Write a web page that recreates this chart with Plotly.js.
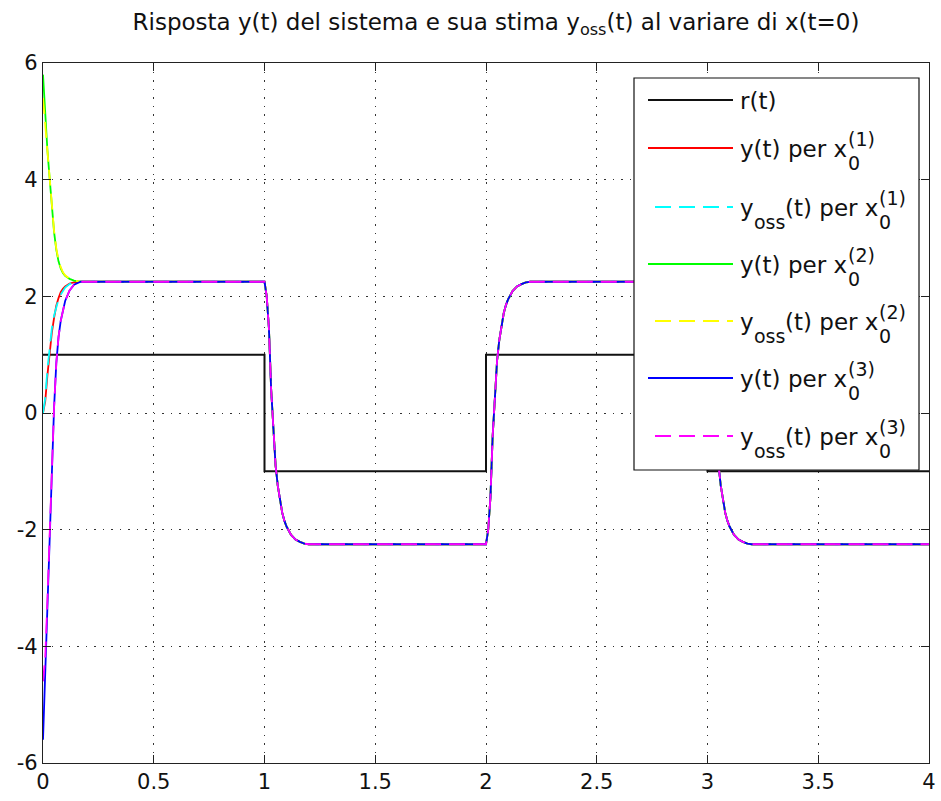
<!DOCTYPE html>
<html>
<head>
<meta charset="utf-8">
<script src="https://cdn.plot.ly/plotly-3.0.1.min.js"></script>
<style>html,body{margin:0;padding:0;background:#fff;}#chart{width:941px;height:801px;}</style>
</head>
<body>
<div id="chart"></div>
<script>
// ---------- data ----------
const tR = [0, 1, 1, 2, 2, 3, 3, 4];
const yR = [1, 1, -1, -1, 1, 1, -1, -1];

// initial transients (t = 0 .. 0.17)
const tInit  = [0, 0.01, 0.02, 0.03, 0.04, 0.05, 0.06, 0.07, 0.08, 0.09, 0.1, 0.12, 0.14, 0.17];
const y1Init  = [0, 0.2, 0.65, 1.05, 1.38, 1.63, 1.84, 1.97, 2.07, 2.13, 2.17, 2.22, 2.24, 2.25];
const yo1Init = [0, 0.25, 0.75, 1.15, 1.45, 1.67, 1.83, 1.95, 2.03, 2.1, 2.15, 2.21, 2.24, 2.25];
const y2Init  = [5.8, 5.05, 4.5, 4.02, 3.55, 3.1, 2.8, 2.6, 2.48, 2.4, 2.35, 2.3, 2.27, 2.25];
const yo2Init = [5.4, 4.95, 4.45, 4.0, 3.55, 3.12, 2.82, 2.62, 2.5, 2.41, 2.36, 2.3, 2.27, 2.25];
const y3Init  = [-5.6, -4.4, -3.2, -2.1, -0.9, 0.1, 0.85, 1.3, 1.58, 1.78, 1.92, 2.1, 2.2, 2.25];
const yo3Init = [-4.6, -4.2, -3.2, -2.1, -0.9, 0.1, 0.85, 1.3, 1.58, 1.78, 1.92, 2.1, 2.2, 2.25];

// common response after the initial transient (all six curves coincide)
const tCommon = [0.2, 1.0, 1.01, 1.02, 1.03, 1.04, 1.05, 1.06, 1.07, 1.08, 1.09, 1.1, 1.12, 1.14, 1.16, 1.18, 1.2,
                 2.0, 2.01, 2.02, 2.03, 2.04, 2.05, 2.06, 2.07, 2.08, 2.09, 2.1, 2.12, 2.14, 2.16, 2.18, 2.2,
                 3.0, 3.01, 3.02, 3.03, 3.04, 3.05, 3.06, 3.07, 3.08, 3.09, 3.1, 3.12, 3.14, 3.16, 3.18, 3.2, 4.0];
const yCommon = [2.25, 2.25, 2.0, 1.45, 0.4, -0.35, -0.9, -1.25, -1.52, -1.71, -1.85, -1.95, -2.09, -2.17, -2.21, -2.24, -2.25,
                 -2.25, -2.0, -1.45, -0.4, 0.35, 0.9, 1.25, 1.52, 1.71, 1.85, 1.95, 2.09, 2.17, 2.21, 2.24, 2.25,
                 2.25, 2.0, 1.45, 0.4, -0.35, -0.9, -1.25, -1.52, -1.71, -1.85, -1.95, -2.09, -2.17, -2.21, -2.24, -2.25, -2.25];

const yTickVals = [-6, -4, -2, 0, 2, 4, 6];
const yTickText = ['-6', '-4', '-2', '0', '2', '4', '6'];
const xTickVals = [0, 0.5, 1, 1.5, 2, 2.5, 3, 3.5, 4];
const xTickText = ['0', '0.5', '1', '1.5', '2', '2.5', '3', '3.5', '4'];

const seriesNames = ['r(t)', 'y(t) per x0(1)', 'yoss(t) per x0(1)', 'y(t) per x0(2)', 'yoss(t) per x0(2)', 'y(t) per x0(3)', 'yoss(t) per x0(3)'];

// ---------- styles ----------
const FONT = '"DejaVu Sans", Verdana, sans-serif';
const DASH = '16px,8px';
const styles = [
  {color: '#111111', dash: 'solid'},
  {color: '#ff0000', dash: 'solid'},
  {color: '#00ffff', dash: DASH},
  {color: '#00ff00', dash: 'solid'},
  {color: '#ffff00', dash: DASH},
  {color: '#0000ff', dash: 'solid'},
  {color: '#ff00ff', dash: DASH}
];

const inits = [y1Init, yo1Init, y2Init, yo2Init, y3Init, yo3Init];
const traces = [{x: tR, y: yR, type: 'scatter', mode: 'lines', name: seriesNames[0], showlegend: false,
  line: {color: styles[0].color, width: 2, dash: 'solid'}}];
inits.forEach((yi, i) => {
  traces.push({
    x: tInit.concat(tCommon), y: yi.concat(yCommon), type: 'scatter', mode: 'lines',
    name: seriesNames[i + 1], showlegend: false,
    line: {color: styles[i + 1].color, width: 1.8, dash: styles[i + 1].dash}
  });
});

// ---------- custom legend (stacked sub/superscripts) ----------
const PL = 43, PR = 929, PT = 63, PB = 763;
const px2x = p => (p - PL) / (PR - PL);
const px2y = p => (PB - p) / (PB - PT);
const ctx = document.createElement('canvas').getContext('2d');
function tw(s, size) { ctx.font = size + 'px "DejaVu Sans"'; return ctx.measureText(s).width; }
const MAIN = 23, SMALL = 19;
function ann(text, x, y, size) {
  return {xref: 'paper', yref: 'paper', x: px2x(x), y: px2y(y), xanchor: 'left', yanchor: 'middle',
    text: text, showarrow: false, borderpad: 0, font: {family: FONT, size: size, color: '#111'}};
}
const rowY = [100, 148, 207, 264, 321, 378, 436];
const entries = [
  {pre: 'r(t)'},
  {pre: 'y(t) per x', k: '(1)'},
  {pre: 'y', sub: 'oss', post: '(t) per x', k: '(1)'},
  {pre: 'y(t) per x', k: '(2)'},
  {pre: 'y', sub: 'oss', post: '(t) per x', k: '(2)'},
  {pre: 'y(t) per x', k: '(3)'},
  {pre: 'y', sub: 'oss', post: '(t) per x', k: '(3)'}
];
const shapes = [{type: 'rect', xref: 'paper', yref: 'paper', x0: px2x(634), x1: px2x(919), y0: px2y(470), y1: px2y(78),
  fillcolor: '#ffffff', line: {color: '#111', width: 1.2}, layer: 'above'}];
const annotations = [];
entries.forEach((e, i) => {
  const ly = rowY[i];
  shapes.push({type: 'line', xref: 'paper', yref: 'paper', x0: px2x(styles[i].dash !== 'solid' ? 655 : 648), x1: px2x(733),
    y0: px2y(ly), y1: px2y(ly), line: {color: styles[i].color, width: 1.8, dash: styles[i].dash}, layer: 'above'});
  let x = 739;
  annotations.push(ann(e.pre, x, ly + 1, MAIN));
  x += tw(e.pre, MAIN);
  if (e.sub) {
    annotations.push(ann(e.sub, x, ly + 15, SMALL));
    x += tw(e.sub, SMALL);
    annotations.push(ann(e.post, x, ly + 1, MAIN));
    x += tw(e.post, MAIN);
  }
  if (e.k) {
    annotations.push(ann(e.k, x + 1, ly - 9, SMALL));
    annotations.push(ann('0', x + 1, ly + 15, SMALL));
  }
});

const axisCommon = {
  showline: true, linecolor: '#222', linewidth: 1.2, mirror: 'ticks',
  ticks: 'inside', ticklen: 8, tickwidth: 1, tickcolor: '#222',
  showgrid: true, gridcolor: '#333', gridwidth: 1, griddash: '1.5px,7px',
  zeroline: false, tickfont: {family: FONT, size: 21, color: '#111'}, tickmode: 'array'
};

const layout = {
  width: 941, height: 801, autosize: false,
  margin: {l: PL, r: 941 - PR, t: PT, b: 801 - PB, pad: 0},
  paper_bgcolor: '#ffffff', plot_bgcolor: '#ffffff',
  showlegend: false,
  title: {text: 'Risposta y(t) del sistema e sua stima y<sub>oss</sub>(t) al variare di x(t=0)',
    font: {family: FONT, size: 23, color: '#111'}, xref: 'paper', x: px2x(496), xanchor: 'center',
    yref: 'container', y: 1 - 22 / 801, yanchor: 'middle'},
  xaxis: Object.assign({}, axisCommon, {range: [0, 4], tickvals: xTickVals, ticktext: xTickText}),
  yaxis: Object.assign({}, axisCommon, {range: [-6, 6], tickvals: yTickVals, ticktext: yTickText}),
  shapes: shapes,
  annotations: annotations
};

Plotly.newPlot('chart', traces, layout, {displayModeBar: false, staticPlot: true});
</script>
</body>
</html>
